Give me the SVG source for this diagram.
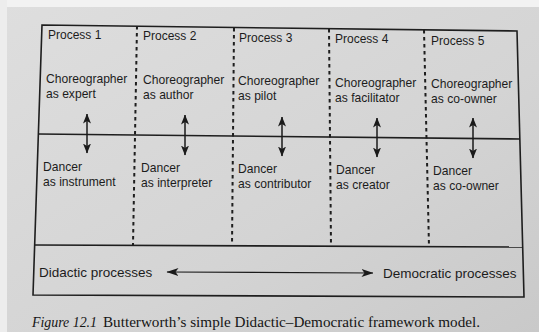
<svg xmlns="http://www.w3.org/2000/svg" width="539" height="332" viewBox="0 0 539 332">
<defs>
<linearGradient id="bg" x1="0" y1="0" x2="1" y2="1">
<stop offset="0" stop-color="#dedede"/>
<stop offset="0.6" stop-color="#d4d4d4"/>
<stop offset="1" stop-color="#c9c9c9"/>
</linearGradient>
<marker id="ah" viewBox="0 0 10 8" refX="9.5" refY="4" markerWidth="10" markerHeight="8" markerUnits="userSpaceOnUse" orient="auto-start-reverse">
<path d="M0,0 L10,4 L0,8 L2.5,4 Z" fill="#1a1a1a"/>
</marker>
<marker id="ah2" viewBox="0 0 12 8" refX="11.5" refY="4" markerWidth="12" markerHeight="8" markerUnits="userSpaceOnUse" orient="auto-start-reverse">
<path d="M0,0 L12,4 L0,8 L3,4 Z" fill="#1a1a1a"/>
</marker>
</defs>
<style>
.frame{fill:none;stroke:#1e1e1e;stroke-width:1.6}
.dash{fill:none;stroke:#1e1e1e;stroke-width:2;stroke-dasharray:3.5 3.5}
.t{font-family:"Liberation Sans",Arial,sans-serif;font-size:12.1px;fill:#1c1c1c}
.p{font-family:"Liberation Sans",Arial,sans-serif;font-size:12px;fill:#1c1c1c}
.b{font-family:"Liberation Sans",Arial,sans-serif;font-size:13.5px;fill:#1c1c1c}
.cap{font-family:"Liberation Serif","Times New Roman",serif;font-size:14.5px;fill:#151515}
.arr{fill:none;stroke:#1a1a1a;stroke-width:1.5;marker-start:url(#ah);marker-end:url(#ah)}
.harr{fill:none;stroke:#1a1a1a;stroke-width:1.2;marker-start:url(#ah2);marker-end:url(#ah2)}
</style>
<rect x="0" y="0" width="539" height="332" fill="url(#bg)"/>
<rect x="0" y="0" width="539" height="7" fill="#f2f2f2"/>
<rect x="0" y="0" width="7" height="332" fill="#ededed"/>

<g id="frame">
<polygon class="frame" points="42,25 517,31 524,297 33,295"/>
<line class="frame" x1="38.5" y1="134" x2="520" y2="139"/>
<line class="frame" x1="34.7" y1="245" x2="522.7" y2="247"/>
<line class="dash" x1="137" y1="26" x2="133" y2="245"/>
<line class="dash" x1="234" y1="28" x2="232" y2="246"/>
<line class="dash" x1="329" y1="29" x2="331" y2="247"/>
<line class="dash" x1="424" y1="30" x2="429" y2="247"/>
</g>

<g id="process1">
<text class="p" x="48" y="39">Process 1</text>
<text class="t" x="46" y="83">Choreographer</text>
<text class="t" x="46" y="98">as expert</text>
<text class="t" x="43" y="171">Dancer</text>
<text class="t" x="43" y="186">as instrument</text>
</g>
<g id="process2">
<text class="p" x="143" y="40">Process 2</text>
<text class="t" x="143" y="84">Choreographer</text>
<text class="t" x="143" y="99">as author</text>
<text class="t" x="141" y="172">Dancer</text>
<text class="t" x="141" y="187">as interpreter</text>
</g>
<g id="process3">
<text class="p" x="239" y="42">Process 3</text>
<text class="t" x="238" y="85">Choreographer</text>
<text class="t" x="238" y="100">as pilot</text>
<text class="t" x="238" y="173">Dancer</text>
<text class="t" x="238" y="188">as contributor</text>
</g>
<g id="process4">
<text class="p" x="335" y="43">Process 4</text>
<text class="t" x="335" y="87">Choreographer</text>
<text class="t" x="335" y="102">as facilitator</text>
<text class="t" x="336" y="174">Dancer</text>
<text class="t" x="336" y="189">as creator</text>
</g>
<g id="process5">
<text class="p" x="431" y="45">Process 5</text>
<text class="t" x="431" y="88">Choreographer</text>
<text class="t" x="431" y="103">as co-owner</text>
<text class="t" x="433" y="175">Dancer</text>
<text class="t" x="433" y="190">as co-owner</text>
</g>
<g id="didactic">
<text class="b" x="39" y="277">Didactic processes</text>
</g>
<g id="democratic">
<text class="b" x="383" y="278">Democratic processes</text>
</g>

<g id="connectors">
<line class="arr" x1="87" y1="114" x2="87" y2="153"/>
<line class="arr" x1="185" y1="115" x2="185" y2="155"/>
<line class="arr" x1="282" y1="117" x2="282" y2="156"/>
<line class="arr" x1="377" y1="118" x2="377" y2="157"/>
<line class="arr" x1="473" y1="118" x2="473" y2="158"/>
<line class="harr" x1="167" y1="272" x2="373" y2="273"/>
</g>

<g id="caption">
<text class="cap" x="32" y="327" font-style="italic" textLength="65" lengthAdjust="spacingAndGlyphs">Figure 12.1</text>
<text class="cap" x="103" y="327" textLength="377" lengthAdjust="spacingAndGlyphs">Butterworth’s simple Didactic–Democratic framework model.</text>
</g>
</svg>
